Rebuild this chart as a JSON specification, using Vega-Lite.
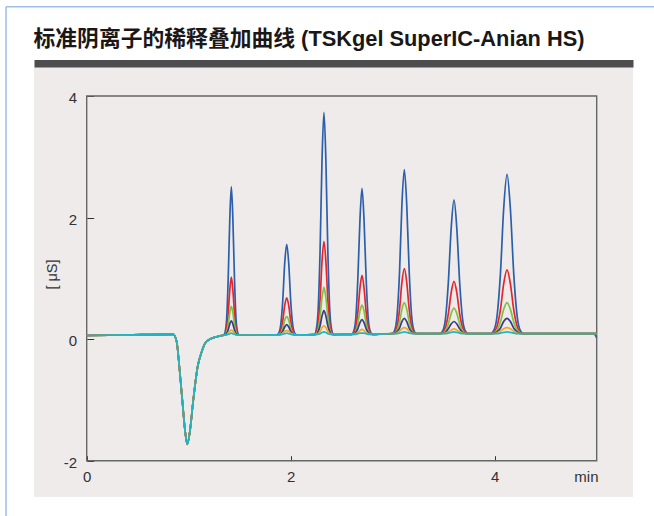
{
  "$schema": "https://vega.github.io/schema/vega-lite/v6.json",
  "width": 599,
  "height": 430,
  "autosize": {"type": "none"},
  "padding": {"left": 34, "top": 67, "right": 21, "bottom": 19},
  "background": "white",
  "config": {"view": {"fill": "#eeebea", "stroke": null}, "font": "Liberation Sans"},
  "datasets": {
    "curves": [
      {"t": 0, "d1": 0.06, "d2": 0.06, "d3": 0.06, "d4": 0.06, "d5": 0.06, "d6": 0.06},
      {"t": 0.4, "d1": 0.07, "d2": 0.07, "d3": 0.07, "d4": 0.07, "d5": 0.07, "d6": 0.07},
      {"t": 0.849, "d1": 0.08, "d2": 0.08, "d3": 0.08, "d4": 0.08, "d5": 0.08, "d6": 0.08},
      {"t": 0.882, "d1": -0.04, "d2": -0.04, "d3": -0.04, "d4": -0.04, "d5": -0.04, "d6": -0.04},
      {"t": 0.908, "d1": -0.45, "d2": -0.45, "d3": -0.45, "d4": -0.45, "d5": -0.45, "d6": -0.45},
      {"t": 0.937, "d1": -1.0, "d2": -1.0, "d3": -1.0, "d4": -1.0, "d5": -1.0, "d6": -1.0},
      {"t": 0.964, "d1": -1.5, "d2": -1.5, "d3": -1.5, "d4": -1.5, "d5": -1.5, "d6": -1.5},
      {"t": 0.986, "d1": -1.73, "d2": -1.73, "d3": -1.73, "d4": -1.73, "d5": -1.73, "d6": -1.73},
      {"t": 1.013, "d1": -1.5, "d2": -1.5, "d3": -1.5, "d4": -1.5, "d5": -1.5, "d6": -1.5},
      {"t": 1.045, "d1": -1.0, "d2": -1.0, "d3": -1.0, "d4": -1.0, "d5": -1.0, "d6": -1.0},
      {"t": 1.088, "d1": -0.45, "d2": -0.45, "d3": -0.45, "d4": -0.45, "d5": -0.45, "d6": -0.45},
      {"t": 1.127, "d1": -0.21, "d2": -0.21, "d3": -0.21, "d4": -0.21, "d5": -0.21, "d6": -0.21},
      {"t": 1.16, "d1": -0.07, "d2": -0.07, "d3": -0.07, "d4": -0.07, "d5": -0.07, "d6": -0.07},
      {"t": 1.209, "d1": 0.0, "d2": 0.0, "d3": 0.0, "d4": 0.0, "d5": 0.0, "d6": 0.0},
      {"t": 1.275, "d1": 0.04, "d2": 0.04, "d3": 0.04, "d4": 0.04, "d5": 0.04, "d6": 0.04},

      {"t": 1.341, "d1": 0.065, "d2": 0.065, "d3": 0.065, "d4": 0.065, "d5": 0.065, "d6": 0.065},
      {"t": 1.356, "d1": 0.11, "d2": 0.08, "d3": 0.07, "d4": 0.07, "d5": 0.07, "d6": 0.07},
      {"t": 1.372, "d1": 0.33, "d2": 0.17, "d3": 0.12, "d4": 0.09, "d5": 0.07, "d6": 0.07},
      {"t": 1.387, "d1": 0.98, "d2": 0.42, "d3": 0.24, "d4": 0.15, "d5": 0.10, "d6": 0.08},
      {"t": 1.403, "d1": 1.98, "d2": 0.81, "d3": 0.44, "d4": 0.25, "d5": 0.13, "d6": 0.09},
      {"t": 1.418, "d1": 2.51, "d2": 1.02, "d3": 0.54, "d4": 0.30, "d5": 0.15, "d6": 0.10},
      {"t": 1.433, "d1": 1.98, "d2": 0.81, "d3": 0.44, "d4": 0.25, "d5": 0.13, "d6": 0.09},
      {"t": 1.449, "d1": 0.98, "d2": 0.42, "d3": 0.24, "d4": 0.15, "d5": 0.10, "d6": 0.08},
      {"t": 1.464, "d1": 0.33, "d2": 0.17, "d3": 0.12, "d4": 0.09, "d5": 0.07, "d6": 0.07},
      {"t": 1.48, "d1": 0.11, "d2": 0.08, "d3": 0.07, "d4": 0.07, "d5": 0.07, "d6": 0.07},
      {"t": 1.495, "d1": 0.065, "d2": 0.065, "d3": 0.065, "d4": 0.065, "d5": 0.065, "d6": 0.065},
      {"t": 1.7, "d1": 0.068, "d2": 0.068, "d3": 0.068, "d4": 0.068, "d5": 0.068, "d6": 0.068},

      {"t": 1.863, "d1": 0.07, "d2": 0.07, "d3": 0.07, "d4": 0.07, "d5": 0.07, "d6": 0.07},
      {"t": 1.883, "d1": 0.10, "d2": 0.08, "d3": 0.08, "d4": 0.07, "d5": 0.07, "d6": 0.07},
      {"t": 1.902, "d1": 0.23, "d2": 0.14, "d3": 0.10, "d4": 0.09, "d5": 0.08, "d6": 0.07},
      {"t": 1.922, "d1": 0.63, "d2": 0.30, "d3": 0.18, "d4": 0.13, "d5": 0.10, "d6": 0.08},
      {"t": 1.941, "d1": 1.24, "d2": 0.55, "d3": 0.31, "d4": 0.20, "d5": 0.13, "d6": 0.09},
      {"t": 1.961, "d1": 1.56, "d2": 0.68, "d3": 0.37, "d4": 0.24, "d5": 0.14, "d6": 0.10},
      {"t": 1.981, "d1": 1.24, "d2": 0.55, "d3": 0.31, "d4": 0.20, "d5": 0.13, "d6": 0.09},
      {"t": 2.0, "d1": 0.63, "d2": 0.30, "d3": 0.18, "d4": 0.13, "d5": 0.10, "d6": 0.08},
      {"t": 2.02, "d1": 0.23, "d2": 0.14, "d3": 0.10, "d4": 0.09, "d5": 0.08, "d6": 0.07},
      {"t": 2.039, "d1": 0.10, "d2": 0.08, "d3": 0.08, "d4": 0.07, "d5": 0.07, "d6": 0.07},
      {"t": 2.059, "d1": 0.07, "d2": 0.07, "d3": 0.07, "d4": 0.07, "d5": 0.07, "d6": 0.07},
      {"t": 2.15, "d1": 0.072, "d2": 0.072, "d3": 0.072, "d4": 0.072, "d5": 0.072, "d6": 0.072},

      {"t": 2.232, "d1": 0.075, "d2": 0.075, "d3": 0.075, "d4": 0.075, "d5": 0.075, "d6": 0.075},
      {"t": 2.25, "d1": 0.15, "d2": 0.11, "d3": 0.09, "d4": 0.08, "d5": 0.08, "d6": 0.075},
      {"t": 2.269, "d1": 0.48, "d2": 0.24, "d3": 0.16, "d4": 0.12, "d5": 0.09, "d6": 0.08},
      {"t": 2.288, "d1": 1.45, "d2": 0.65, "d3": 0.37, "d4": 0.22, "d5": 0.13, "d6": 0.09},
      {"t": 2.307, "d1": 2.94, "d2": 1.28, "d3": 0.68, "d4": 0.38, "d5": 0.19, "d6": 0.11},
      {"t": 2.326, "d1": 3.73, "d2": 1.61, "d3": 0.85, "d4": 0.47, "d5": 0.22, "d6": 0.12},
      {"t": 2.345, "d1": 2.94, "d2": 1.28, "d3": 0.68, "d4": 0.38, "d5": 0.19, "d6": 0.11},
      {"t": 2.364, "d1": 1.45, "d2": 0.65, "d3": 0.37, "d4": 0.22, "d5": 0.13, "d6": 0.09},
      {"t": 2.383, "d1": 0.48, "d2": 0.24, "d3": 0.16, "d4": 0.12, "d5": 0.09, "d6": 0.08},
      {"t": 2.402, "d1": 0.15, "d2": 0.11, "d3": 0.09, "d4": 0.08, "d5": 0.08, "d6": 0.075},
      {"t": 2.421, "d1": 0.075, "d2": 0.075, "d3": 0.075, "d4": 0.075, "d5": 0.075, "d6": 0.075},
      {"t": 2.51, "d1": 0.078, "d2": 0.078, "d3": 0.078, "d4": 0.078, "d5": 0.078, "d6": 0.078},

      {"t": 2.598, "d1": 0.08, "d2": 0.08, "d3": 0.08, "d4": 0.08, "d5": 0.08, "d6": 0.08},
      {"t": 2.618, "d1": 0.13, "d2": 0.10, "d3": 0.09, "d4": 0.085, "d5": 0.08, "d6": 0.08},
      {"t": 2.638, "d1": 0.34, "d2": 0.19, "d3": 0.13, "d4": 0.11, "d5": 0.09, "d6": 0.08},
      {"t": 2.658, "d1": 0.98, "d2": 0.44, "d3": 0.26, "d4": 0.17, "d5": 0.11, "d6": 0.09},
      {"t": 2.679, "d1": 1.96, "d2": 0.84, "d3": 0.46, "d4": 0.27, "d5": 0.14, "d6": 0.10},
      {"t": 2.699, "d1": 2.48, "d2": 1.05, "d3": 0.56, "d4": 0.32, "d5": 0.16, "d6": 0.10},
      {"t": 2.719, "d1": 1.96, "d2": 0.84, "d3": 0.46, "d4": 0.27, "d5": 0.14, "d6": 0.10},
      {"t": 2.74, "d1": 0.98, "d2": 0.44, "d3": 0.26, "d4": 0.17, "d5": 0.11, "d6": 0.09},
      {"t": 2.76, "d1": 0.34, "d2": 0.19, "d3": 0.13, "d4": 0.11, "d5": 0.09, "d6": 0.08},
      {"t": 2.78, "d1": 0.13, "d2": 0.10, "d3": 0.09, "d4": 0.085, "d5": 0.08, "d6": 0.08},
      {"t": 2.801, "d1": 0.08, "d2": 0.08, "d3": 0.08, "d4": 0.08, "d5": 0.08, "d6": 0.08},
      {"t": 2.9, "d1": 0.085, "d2": 0.085, "d3": 0.085, "d4": 0.085, "d5": 0.085, "d6": 0.085},

      {"t": 2.995, "d1": 0.09, "d2": 0.09, "d3": 0.09, "d4": 0.09, "d5": 0.09, "d6": 0.09},
      {"t": 3.019, "d1": 0.14, "d2": 0.11, "d3": 0.10, "d4": 0.095, "d5": 0.09, "d6": 0.09},
      {"t": 3.043, "d1": 0.39, "d2": 0.21, "d3": 0.15, "d4": 0.12, "d5": 0.10, "d6": 0.09},
      {"t": 3.067, "d1": 1.10, "d2": 0.49, "d3": 0.28, "d4": 0.18, "d5": 0.13, "d6": 0.10},
      {"t": 3.09, "d1": 2.20, "d2": 0.93, "d3": 0.49, "d4": 0.29, "d5": 0.17, "d6": 0.11},
      {"t": 3.114, "d1": 2.79, "d2": 1.16, "d3": 0.60, "d4": 0.34, "d5": 0.19, "d6": 0.12},
      {"t": 3.138, "d1": 2.20, "d2": 0.93, "d3": 0.49, "d4": 0.29, "d5": 0.17, "d6": 0.11},
      {"t": 3.162, "d1": 1.10, "d2": 0.49, "d3": 0.28, "d4": 0.18, "d5": 0.13, "d6": 0.10},
      {"t": 3.185, "d1": 0.39, "d2": 0.21, "d3": 0.15, "d4": 0.12, "d5": 0.10, "d6": 0.09},
      {"t": 3.209, "d1": 0.14, "d2": 0.11, "d3": 0.10, "d4": 0.095, "d5": 0.09, "d6": 0.09},
      {"t": 3.233, "d1": 0.09, "d2": 0.09, "d3": 0.09, "d4": 0.09, "d5": 0.09, "d6": 0.09},
      {"t": 3.35, "d1": 0.09, "d2": 0.09, "d3": 0.09, "d4": 0.09, "d5": 0.09, "d6": 0.09},

      {"t": 3.461, "d1": 0.09, "d2": 0.09, "d3": 0.09, "d4": 0.09, "d5": 0.09, "d6": 0.09},
      {"t": 3.489, "d1": 0.13, "d2": 0.11, "d3": 0.10, "d4": 0.095, "d5": 0.09, "d6": 0.09},
      {"t": 3.517, "d1": 0.33, "d2": 0.19, "d3": 0.14, "d4": 0.11, "d5": 0.10, "d6": 0.09},
      {"t": 3.545, "d1": 0.92, "d2": 0.41, "d3": 0.25, "d4": 0.17, "d5": 0.12, "d6": 0.10},
      {"t": 3.573, "d1": 1.81, "d2": 0.76, "d3": 0.42, "d4": 0.25, "d5": 0.15, "d6": 0.11},
      {"t": 3.601, "d1": 2.29, "d2": 0.95, "d3": 0.51, "d4": 0.29, "d5": 0.17, "d6": 0.12},
      {"t": 3.629, "d1": 1.81, "d2": 0.76, "d3": 0.42, "d4": 0.25, "d5": 0.15, "d6": 0.11},
      {"t": 3.657, "d1": 0.92, "d2": 0.41, "d3": 0.25, "d4": 0.17, "d5": 0.12, "d6": 0.10},
      {"t": 3.685, "d1": 0.33, "d2": 0.19, "d3": 0.14, "d4": 0.11, "d5": 0.10, "d6": 0.09},
      {"t": 3.713, "d1": 0.13, "d2": 0.11, "d3": 0.10, "d4": 0.095, "d5": 0.09, "d6": 0.09},
      {"t": 3.741, "d1": 0.09, "d2": 0.09, "d3": 0.09, "d4": 0.09, "d5": 0.09, "d6": 0.09},
      {"t": 3.85, "d1": 0.09, "d2": 0.09, "d3": 0.09, "d4": 0.09, "d5": 0.09, "d6": 0.09},

      {"t": 3.957, "d1": 0.09, "d2": 0.09, "d3": 0.09, "d4": 0.09, "d5": 0.09, "d6": 0.09},
      {"t": 3.99, "d1": 0.14, "d2": 0.11, "d3": 0.10, "d4": 0.095, "d5": 0.09, "d6": 0.09},
      {"t": 4.023, "d1": 0.38, "d2": 0.21, "d3": 0.15, "d4": 0.12, "d5": 0.10, "d6": 0.09},
      {"t": 4.056, "d1": 1.07, "d2": 0.48, "d3": 0.28, "d4": 0.18, "d5": 0.13, "d6": 0.10},
      {"t": 4.088, "d1": 2.14, "d2": 0.91, "d3": 0.49, "d4": 0.29, "d5": 0.17, "d6": 0.11},
      {"t": 4.121, "d1": 2.71, "d2": 1.14, "d3": 0.60, "d4": 0.34, "d5": 0.19, "d6": 0.12},
      {"t": 4.154, "d1": 2.14, "d2": 0.91, "d3": 0.49, "d4": 0.29, "d5": 0.17, "d6": 0.11},
      {"t": 4.187, "d1": 1.07, "d2": 0.48, "d3": 0.28, "d4": 0.18, "d5": 0.13, "d6": 0.10},
      {"t": 4.22, "d1": 0.38, "d2": 0.21, "d3": 0.15, "d4": 0.12, "d5": 0.10, "d6": 0.09},
      {"t": 4.252, "d1": 0.14, "d2": 0.11, "d3": 0.10, "d4": 0.095, "d5": 0.09, "d6": 0.09},
      {"t": 4.285, "d1": 0.09, "d2": 0.09, "d3": 0.09, "d4": 0.09, "d5": 0.09, "d6": 0.09},
      {"t": 4.6, "d1": 0.09, "d2": 0.09, "d3": 0.09, "d4": 0.09, "d5": 0.09, "d6": 0.09},
      {"t": 4.97, "d1": 0.09, "d2": 0.09, "d3": 0.09, "d4": 0.09, "d5": 0.09, "d6": 0.09},
      {"t": 5.0, "d1": 0.02, "d2": 0.09, "d3": 0.09, "d4": 0.09, "d5": 0.09, "d6": 0.09}
    ]
  },
  "layer": [
    {
      "data": {"values": [{}]},
      "mark": {"type": "rule", "color": "#9cbfe8", "strokeWidth": 1.5, "clip": false},
      "encoding": {
        "x": {"datum": -0.791, "type": "quantitative", "scale": {"domain": [-0.5167, 5.356], "nice": false, "zero": false}, "axis": null},
        "x2": {"datum": 5.6},
        "y": {"datum": 5.469, "type": "quantitative", "scale": {"domain": [-2.597, 4.477], "nice": false, "zero": false}, "axis": null}
      }
    },
    {
      "data": {"values": [{}]},
      "mark": {"type": "rule", "color": "#9cbfe8", "strokeWidth": 1.5, "clip": false},
      "encoding": {
        "x": {"datum": -0.791, "type": "quantitative", "scale": {"domain": [-0.5167, 5.356], "nice": false, "zero": false}, "axis": null},
        "y": {"datum": 5.469, "type": "quantitative", "scale": {"domain": [-2.597, 4.477], "nice": false, "zero": false}, "axis": null},
        "y2": {"datum": -2.95}
      }
    },
    {
      "data": {"values": [{}]},
      "mark": {"type": "rect", "fillOpacity": 0, "stroke": "#666666", "strokeWidth": 1.4},
      "encoding": {
        "x": {
          "datum": 0, "type": "quantitative",
          "scale": {"domain": [-0.5167, 5.356], "nice": false, "zero": false},
          "axis": {
            "orient": "top", "offset": 3.7, "domain": true, "domainColor": "#4d4d4f", "domainWidth": 7.4,
            "ticks": false, "labels": false, "grid": false,
            "title": "标准阴离子的稀释叠加曲线 (TSKgel SuperIC-Anian HS)",
            "titleFont": "Liberation Sans, Noto Sans CJK SC", "titleFontSize": 21.8, "titleFontWeight": "bold", "titleColor": "#1a1718",
            "titleAlign": "left", "titleBaseline": "alphabetic", "titleAngle": 0, "titleX": -1, "titleY": -18
          }
        },
        "x2": {"datum": 5},
        "y": {"datum": -2, "type": "quantitative", "scale": {"domain": [-2.597, 4.477], "nice": false, "zero": false}, "axis": null},
        "y2": {"datum": 4}
      }
    },
    {
      "data": {"name": "curves"},
      "transform": [{"fold": ["d1", "d2", "d3", "d4", "d5", "d6"], "as": ["series", "v"]}],
      "mark": {"type": "line", "interpolate": "monotone", "strokeWidth": 1.7},
      "encoding": {
        "x": {
          "field": "t", "type": "quantitative",
          "scale": {"domain": [-0.5167, 5.356], "nice": false, "zero": false},
          "axis": {
            "orient": "bottom", "offset": -36.3, "values": [0, 2, 4], "domain": false, "grid": false,
            "tickSize": -5, "tickColor": "#333333", "labelPadding": 14, "labelFontSize": 15, "labelColor": "#333333",
            "title": "min", "titleFontSize": 15, "titleFontWeight": "normal", "titleColor": "#333333",
            "titleAlign": "right", "titleBaseline": "alphabetic", "titleX": 564, "titleY": 21
          }
        },
        "y": {
          "field": "v", "type": "quantitative",
          "scale": {"domain": [-2.597, 4.477], "nice": false, "zero": false},
          "axis": {
            "orient": "left", "offset": -52.7, "values": [-2, 0, 2, 4], "domain": false, "grid": false,
            "tickSize": -7, "tickColor": "#333333", "labelPadding": 17, "labelFontSize": 15, "labelColor": "#333333", "labelOffset": 1.5,
            "labelExpr": "datum.value < 0 ? '-' + format(-datum.value, 'd') : datum.label",
            "title": "[ μS]", "titleFontSize": 14.5, "titleFontWeight": "normal", "titleColor": "#333333",
            "titleAngle": -90, "titleAlign": "center", "titleBaseline": "middle", "titleX": -34, "titleY": 207
          }
        },
        "color": {
          "field": "series", "type": "nominal",
          "scale": {"domain": ["d1", "d2", "d3", "d4", "d5", "d6"], "range": ["#2c5faa", "#e8242b", "#7dc244", "#3b3a8e", "#f6a81c", "#1bb5c4"]},
          "legend": null
        }
      }
    }
  ],
  "resolve": {"axis": {"x": "independent", "y": "independent"}}
}
